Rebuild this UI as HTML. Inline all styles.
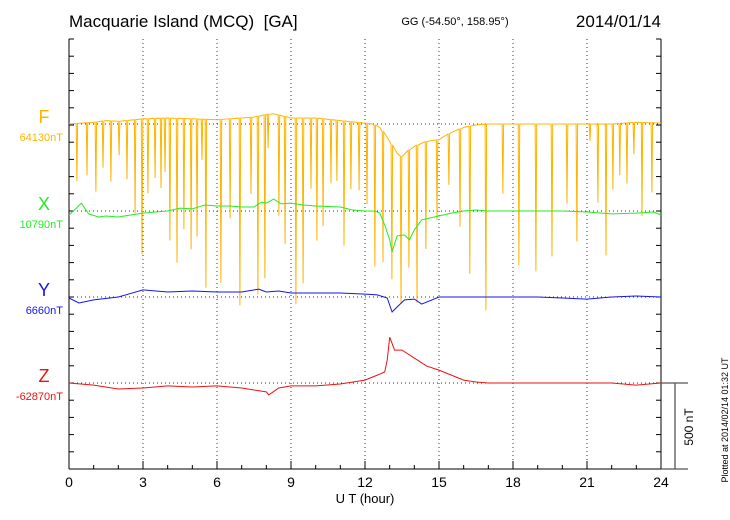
<!DOCTYPE html>
<html><head><meta charset="utf-8"><style>
body{margin:0;background:#fff;}
svg{display:block;font-family:"Liberation Sans",sans-serif;}
</style></head><body>
<svg id="chart" width="730" height="520" viewBox="0 0 730 520" xmlns="http://www.w3.org/2000/svg">
<text x="69" y="27" font-size="17" xml:space="preserve">Macquarie Island (MCQ)  [GA]</text>
<text x="455" y="25" font-size="11" text-anchor="middle">GG (-54.50°, 158.95°)</text>
<text x="661" y="27" font-size="17" text-anchor="end">2014/01/14</text>
<g id="grid"></g><g id="axes"></g><g id="series"></g>
<text x="365" y="503" font-size="13" text-anchor="middle">U T (hour)</text>
<text transform="translate(693,427) rotate(-90)" font-size="12" text-anchor="middle">500 nT</text>
<text transform="translate(728,420) rotate(-90)" font-size="9" text-anchor="middle">Plotted at 2014/02/14 01:32 UT</text>
</svg>
<script>
const xTicks=[0,3,6,9,12,15,18,21,24];
const compNames=["F","X","Y","Z"];
const compBaseLabels=["64130nT","10790nT","6660nT","-62870nT"];
const compColors=["#FFB400","#22EE22","#1515EE","#EE1111"];
const fTimes=[0,0.5,1,1.5,2,3,4,5,6,7,7.5,8,8.3,9,10,11,12,12.3,12.6,13,13.3,13.5,13.7,14,14.5,15,15.5,16,16.5,17,18,20,22,23,24];
const fVals=[0,5,10,20,15,30,35,30,25,35,40,55,60,35,35,20,5,0,-20,-100,-170,-190,-160,-130,-100,-90,-50,-20,-5,0,0,0,0,10,5];
const spikeTimes=[0.32,0.73,1.09,1.38,1.70,2.03,2.35,2.68,2.96,3.20,3.49,3.73,3.89,4.09,4.38,4.66,4.95,5.19,5.39,5.55,6.16,6.53,6.93,7.38,7.66,7.94,8.07,8.51,8.76,9.20,9.49,9.81,10.05,10.30,10.62,10.86,11.15,11.43,11.76,12.08,12.40,12.73,13.09,13.46,13.78,14.11,14.47,14.92,15.40,15.85,16.25,16.90,17.59,18.24,18.93,19.58,20.19,20.59,21.12,21.44,21.77,22.05,22.33,22.62,22.90,23.23,23.63];
const spikeVals=[-336,-307,-405,-272,-353,-197,-342,-544,-787,-434,-347,-405,-313,-712,-840,-643,-758,-683,-237,-979,-950,-579,-1089,-446,-1036,-950,-197,-585,-741,-1083,-961,-411,-712,-625,-371,-353,-724,-394,-394,-469,-822,-758,-782,-857,-683,-915,-625,-469,-295,-567,-857,-1083,-405,-822,-857,-770,-463,-683,-98,-457,-764,-382,-301,-353,-185,-544,-405];
const xTimes=[0,0.3,0.5,0.8,1.2,1.5,2,2.5,3,4,4.5,5,5.5,6,6.5,7,7.5,7.8,8,8.3,8.6,9,9.5,10,11,11.5,12,12.4,12.6,12.8,13,13.1,13.3,13.6,13.8,14,14.3,14.6,15,15.5,16,16.5,17,18,19,20,21,22,23,23.7,24];
const xVals=[-23,17,46,-17,-35,-29,-35,-23,-12,0,17,12,35,29,29,23,23,52,46,69,41,46,35,29,23,6,0,0,-12,-81,-168,-237,-145,-139,-168,-110,-52,-41,-29,-12,0,6,0,0,0,0,-6,-17,-12,-6,-23];
const yTimes=[0,0.4,1,2,3,4,5,6,7,7.7,8,8.5,9,10,11,12,12.5,12.9,13.1,13.3,13.6,14,14.3,15,16,17,18,19,20,21,22,23,24];
const yVals=[-6,-35,-17,0,41,29,35,29,29,46,29,35,23,23,23,17,12,-6,-87,-58,-17,-12,-41,0,0,0,0,0,-6,-12,0,6,0];
const zTimes=[0,1,2,3,4,5,6,7,8,8.1,8.5,9,10,11,12,12.5,12.8,12.9,13.0,13.2,13.5,14,14.5,15,15.5,16,16.5,17,20,22,23,24];
const zVals=[0,-12,-35,-29,-17,-23,-17,-29,-52,-69,-29,-17,-17,-6,17,46,64,133,266,191,191,145,98,75,46,17,6,0,0,0,-12,0];
const baseY=[124,211,297,383];
const X0=69,X1=661,YT=39,YB=469,PXNT=86/500;
const xs=h=>X0+(X1-X0)*h/24;
const ys=(i,v)=>baseY[i]-v*PXNT;
const NS="http://www.w3.org/2000/svg";
function mk(tag,attrs,parent){const e=document.createElementNS(NS,tag);for(const k in attrs)e.setAttribute(k,attrs[k]);parent.appendChild(e);return e;}
const grid=document.getElementById('grid'),axes=document.getElementById('axes'),ser=document.getElementById('series');
xTicks.slice(1,-1).forEach(h=>{const l=mk('line',{x1:xs(h),x2:xs(h),y1:YT,y2:YB,stroke:'#333','stroke-width':1,'stroke-dasharray':'1,3'},grid);

});
baseY.forEach((b,i)=>{const l=mk('line',{x1:X0,x2:X1,y1:b,y2:b,stroke:'#333','stroke-width':1,'stroke-dasharray':'1,3'},grid);

});
[[X0,YT,X0,YB],[X1,YT,X1,YB],[X0,YB,X1,YB]].forEach(a=>{const l=mk('line',{x1:a[0],y1:a[1],x2:a[2],y2:a[3],stroke:'#000','stroke-width':1},axes);

});
for(let y=YB;y>=YT;y-=86/5){[[X0,X0+5],[X1-5,X1]].forEach(p=>{const l=mk('line',{x1:p[0],x2:p[1],y1:y,y2:y,stroke:'#000'},axes);

});}
for(let h=0;h<=24;h++){const big=h%3===0;const l=mk('line',{x1:xs(h),x2:xs(h),y1:YB,y2:YB-(big?8:4),stroke:'#000'},axes);

}
xTicks.forEach(h=>{const t=mk('text',{x:xs(h),y:487,'font-size':14,'text-anchor':'middle'},axes);t.textContent=h;

});
[[X1,383,688,383],[X1,469,688,469],[675,383,675,469]].forEach(a=>{const l=mk('line',{x1:a[0],y1:a[1],x2:a[2],y2:a[3],stroke:'#555','stroke-width':1.3},axes);

});
compNames.forEach((n,i)=>{const t=mk('text',{x:44,y:baseY[i]-1,'font-size':18,'text-anchor':'middle',fill:compColors[i]},axes);t.textContent=n;


const b=mk('text',{x:63,y:baseY[i]+17,'font-size':11,'text-anchor':'end',fill:compColors[i]},axes);b.textContent=compBaseLabels[i];

});
function interp(ts,vs,t){for(let k=1;k<ts.length;k++){if(t<=ts[k]){const f=(t-ts[k-1])/(ts[k]-ts[k-1]);return vs[k-1]+f*(vs[k]-vs[k-1]);}}return vs[vs.length-1];}
function drawLine(i,ts,vs,name){const d=ts.map((t,k)=>(k?'L':'M')+xs(t).toFixed(1)+','+ys(i,vs[k]).toFixed(1)).join('');
const p=mk('path',{d:d,fill:'none',stroke:compColors[i],'stroke-width':1},ser);

}
let fpts=[];fTimes.forEach((t,k)=>fpts.push([t,fVals[k]]));
spikeTimes.forEach((t,k)=>{const b=interp(fTimes,fVals,t);fpts.push([t-0.03,b]);fpts.push([t,b+spikeVals[k]]);fpts.push([t+0.03,b]);});
fpts.sort((a,b)=>a[0]-b[0]);
drawLine(0,fpts.map(p=>p[0]),fpts.map(p=>p[1]),'series-f');
drawLine(1,xTimes,xVals,'series-x');
drawLine(2,yTimes,yVals,'series-y');
drawLine(3,zTimes,zVals,'series-z');
</script>
</body></html>
